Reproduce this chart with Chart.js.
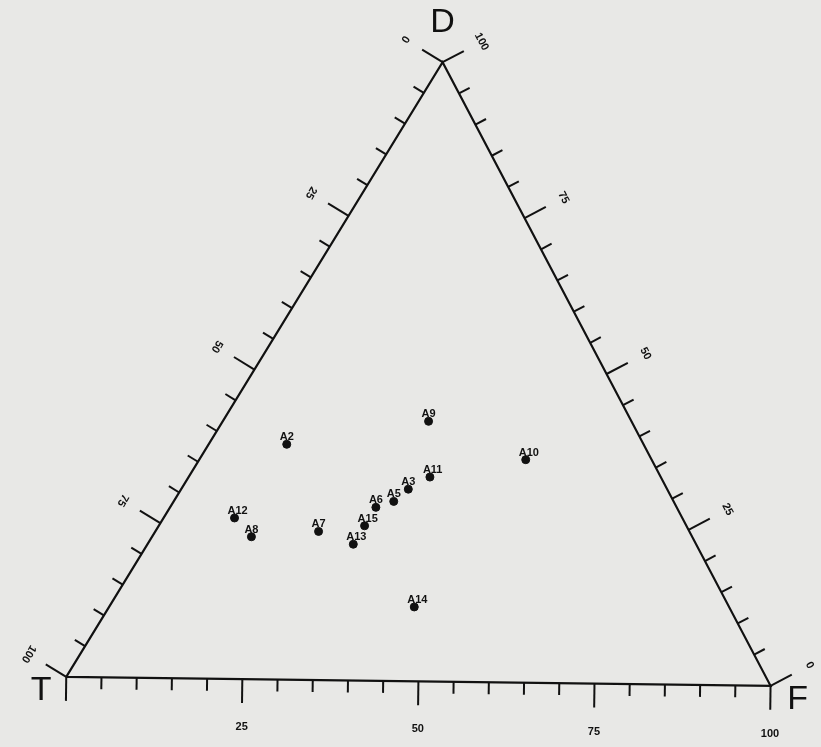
<!DOCTYPE html>
<html>
<head>
<meta charset="utf-8">
<script src="https://cdn.jsdelivr.net/npm/chart.js@4/dist/chart.umd.min.js"></script>
<style>
  html, body { margin: 0; padding: 0; background: #e8e8e6; }
  #wrap { width: 821px; height: 747px; position: relative; }
</style>
</head>
<body>
<div id="wrap"><canvas id="c"></canvas></div>
<script>
// ---- data (ternary percentages: T, F, D) ----
const sampleLabels = ["A12","A8","A2","A7","A13","A15","A6","A5","A3","A11","A9","A10","A14"];
const tValues = [64, 63, 51, 53, 49, 46, 43, 40, 37, 33, 29, 18, 45];
const fValues = [10, 14, 11, 23, 29, 29, 29, 31, 32, 34, 29, 46, 43];
const dValues = [26, 23, 38, 24, 22, 25, 28, 29, 31, 33, 42, 36, 12];
const cornerNames = ["T", "F", "D"];
const tickValues = [0, 25, 50, 75, 100];
const tickLabels = ["0", "25", "50", "75", "100"];

// ---- layout: where the three corners sit in the plotting frame ----
const VT = {x: 62, y: 681};
const VF = {x: 775, y: 690};
const VD = {x: 443, y: 58};

function tern(t, f, d) {
  const s = t + f + d;
  return {
    x: (t * VT.x + f * VF.x + d * VD.x) / s,
    y: (t * VT.y + f * VF.y + d * VD.y) / s
  };
}

const points = sampleLabels.map((lab, i) => tern(tValues[i], fValues[i], dValues[i]));
const frame = [tern(100,0,0), tern(0,100,0), tern(0,0,100), tern(100,0,0)];

const edges = [
  { name: "F", at: v => [100 - v, v, 0], rot: 0, labelSkip0: true, off: 48 },
  { name: "T", at: v => [v, 0, 100 - v], rot: 121 * Math.PI / 180, off: 44 },
  { name: "D", at: v => [0, 100 - v, v], rot: 62 * Math.PI / 180, off: 44 }
];

const ternaryPlugin = {
  id: "ternary",
  afterDatasetsDraw(chart) {
    const ctx = chart.ctx;
    const xs = chart.scales.x, ys = chart.scales.y;
    const px = p => ({x: xs.getPixelForValue(p.x), y: ys.getPixelForValue(p.y)});
    const cen = px(tern(1,1,1));
    ctx.save();
    ctx.strokeStyle = "#111";
    ctx.fillStyle = "#111";
    ctx.lineCap = "butt";
    edges.forEach(e => {
      const a = px(tern(...e.at(0))), b = px(tern(...e.at(100)));
      let dx = b.x - a.x, dy = b.y - a.y;
      const L = Math.hypot(dx, dy); dx /= L; dy /= L;
      let nx = -dy, ny = dx;
      const mid = {x: (a.x + b.x) / 2, y: (a.y + b.y) / 2};
      if ((cen.x - mid.x) * nx + (cen.y - mid.y) * ny > 0) { nx = -nx; ny = -ny; }
      for (let v = 0; v <= 100; v += 5) {
        const p = px(tern(...e.at(v)));
        const major = v % 25 === 0;
        const len = major ? 24 : 12;
        ctx.lineWidth = 2;
        ctx.beginPath();
        ctx.moveTo(p.x, p.y);
        ctx.lineTo(p.x + nx * len, p.y + ny * len);
        ctx.stroke();
      }
      ctx.font = "bold 11px 'Liberation Sans', Arial, sans-serif";
      ctx.textAlign = "center";
      ctx.textBaseline = "middle";
      tickValues.forEach((v, i) => {
        if (e.labelSkip0 && v === 0) return;
        const p = px(tern(...e.at(v)));
        ctx.save();
        ctx.translate(p.x + nx * e.off, p.y + ny * e.off);
        ctx.rotate(e.rot);
        ctx.fillText(tickLabels[i], 0, 0);
        ctx.restore();
      });
    });
    // corner names
    ctx.font = "34px 'Liberation Sans', Arial, sans-serif";
    ctx.textAlign = "center";
    ctx.textBaseline = "middle";
    const cT = px(tern(100,0,0)), cF = px(tern(0,100,0)), cD = px(tern(0,0,100));
    ctx.fillText(cornerNames[0], cT.x - 25, cT.y + 14);
    ctx.fillText(cornerNames[1], cF.x + 27, cF.y + 14);
    ctx.fillText(cornerNames[2], cD.x, cD.y - 40);
    // sample labels
    ctx.font = "bold 11px 'Liberation Sans', Arial, sans-serif";
    ctx.textAlign = "left";
    ctx.textBaseline = "alphabetic";
    points.forEach((pt, i) => {
      const p = px(pt);
      ctx.fillText(sampleLabels[i], p.x - 7, p.y - 4);
    });
    ctx.restore();
  }
};

new Chart(document.getElementById("c"), {
  type: "scatter",
  data: {
    datasets: [
      {
        label: "frame",
        data: frame,
        showLine: true,
        borderColor: "#111",
        borderWidth: 2.2,
        pointRadius: 0,
        tension: 0,
        fill: false
      },
      {
        label: "samples",
        data: points,
        pointRadius: 4,
        pointBackgroundColor: "#111",
        pointBorderColor: "#111",
        showLine: false
      }
    ]
  },
  options: {
    responsive: true,
    maintainAspectRatio: false,
    animation: false,
    layout: { padding: 0 },
    plugins: { legend: { display: false }, tooltip: { enabled: false } },
    scales: {
      x: { type: "linear", min: 0, max: 821, display: false },
      y: { type: "linear", min: 0, max: 747, reverse: true, display: false }
    }
  },
  plugins: [ternaryPlugin]
});
</script>
</body>
</html>
